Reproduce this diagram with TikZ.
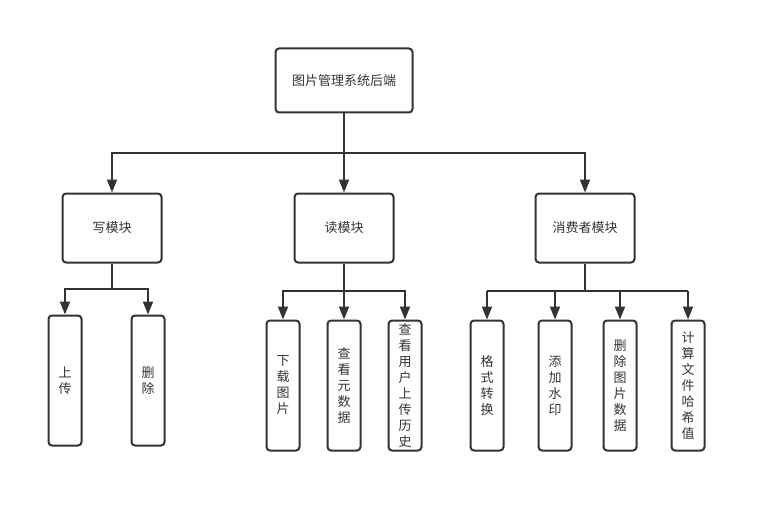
\documentclass[tikz,border=0pt]{standalone}
\usepackage{fontspec}
\setmainfont{Noto Sans CJK SC}
\usetikzlibrary{arrows.meta}
\definecolor{ink}{HTML}{333333}
\begin{document}
\begin{tikzpicture}[x=1pt,y=-1pt,
  box/.style={draw=ink,line width=2pt,rounded corners=3.5pt,text=ink,inner sep=0pt,
    font=\fontsize{13pt}{16pt}\selectfont},
  bigbox/.style={box,minimum width=137pt,minimum height=64pt},
  midbox/.style={box,minimum width=99pt,minimum height=69pt},
  tallbox/.style={box,minimum width=33pt,minimum height=130pt,align=center},
  link/.style={draw=ink,line width=2pt},
  arr/.style={link,-{Triangle[length=13pt,width=10pt]}}]
\useasboundingbox (0,0) rectangle (767,513);
\node[bigbox] (root) at (344,80.5) {图片管理系统后端};
\node[midbox] (w) at (112,228) {写模块};
\node[midbox] (r) at (344,228) {读模块};
\node[midbox] (c) at (585,228) {消费者模块};
\coordinate (j0) at (344,153);
\draw[link] (root.south) -- (j0);
\draw[arr] (j0) -- (r.north);
\draw[arr] (j0) -| (w.north);
\draw[arr] (j0) -| (c.north);
% write children
\node[tallbox] (w1) at (65,380.5) {上\\传};
\node[tallbox] (w2) at (148,380.5) {删\\除};
\coordinate (jw) at (112,289);
\draw[link] (w.south) -- (jw);
\draw[arr] (jw) -| (w1.north);
\draw[arr] (jw) -| (w2.north);
% read children
\node[tallbox] (r1) at (283,385.5) {下\\载\\图\\片};
\node[tallbox] (r2) at (344,385.5) {查\\看\\元\\数\\据};
\node[tallbox] (r3) at (405,385.5) {查\\看\\用\\户\\上\\传\\历\\史};
\coordinate (jr) at (344,291);
\draw[link] (r.south) -- (jr);
\draw[arr] (jr) -- (r2.north);
\draw[arr] (jr) -| (r1.north);
\draw[arr] (jr) -| (r3.north);
% consumer children
\node[tallbox] (c1) at (487,385.5) {格\\式\\转\\换};
\node[tallbox] (c2) at (555,385.5) {添\\加\\水\\印};
\node[tallbox] (c3) at (620,385.5) {删\\除\\图\\片\\数\\据};
\node[tallbox] (c4) at (688,385.5) {计\\算\\文\\件\\哈\\希\\值};
\coordinate (jc) at (585,291);
\coordinate (jc1) at (487,291);
\coordinate (jc4) at (688,291);
\draw[link] (c.south) -- (jc);
\draw[link] (jc1) -- (jc4);
\draw[arr] (jc1) -- (c1.north);
\draw[arr] (c2.north |- jc) -- (c2.north);
\draw[arr] (c3.north |- jc) -- (c3.north);
\draw[arr] (jc4) -- (c4.north);
\end{tikzpicture}
\end{document}
